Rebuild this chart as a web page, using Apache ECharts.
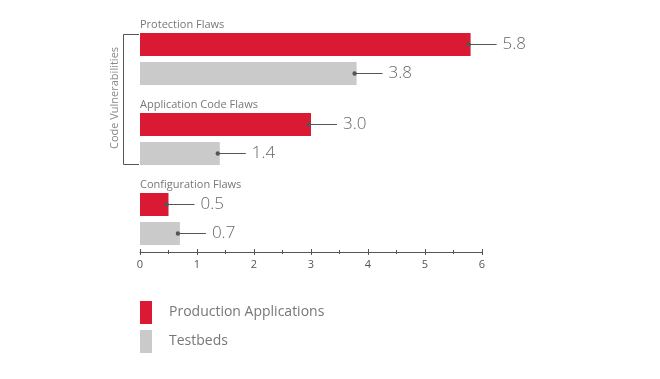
<!DOCTYPE html>
<html><head><meta charset="utf-8">
<script src="https://cdn.jsdelivr.net/npm/echarts@6/dist/echarts.min.js"></script>
<style>html,body{margin:0;padding:0;background:#fff}#c{width:660px;height:379px}</style>
</head><body><div id="c"></div>
<script>
var categories = ['Protection Flaws', 'Application Code Flaws', 'Configuration Flaws'];
var seriesNames = ['Production Applications', 'Testbeds'];
var production = [5.8, 3.0, 0.5];
var testbeds = [3.8, 1.4, 0.7];
var xTicks = [0, 1, 2, 3, 4, 5, 6];
var groupLabel = 'Code Vulnerabilities';

var RED = '#DA1A33', GRAY = '#CACACA', FONT = '"Open Sans", "Noto Sans", sans-serif';
var chart = echarts.init(document.getElementById('c'));

function annot(values) {
  return values.map(function (v, i) { return [v, i]; });
}
function makeRender(dy) {
  return function (params, api) {
    var v = api.value(0), idx = api.value(1);
    var p = api.coord([v, idx]);
    var x = p[0], y = p[1] + dy;
    return {
      type: 'group',
      children: [
        { type: 'line', shape: { x1: x - 2, y1: y, x2: x + 26, y2: y }, style: { stroke: '#555', lineWidth: 1 } },
        { type: 'circle', shape: { cx: x - 2, cy: y, r: 2.2 }, style: { fill: '#555' } },
        { type: 'text', x: x + 32, y: y, style: { text: v.toFixed(1), fill: '#666', font: '300 17px ' + FONT, textVerticalAlign: 'middle', textAlign: 'left' } }
      ]
    };
  };
}

chart.setOption({
  animation: false,
  grid: { left: 140, right: 178, top: 19, bottom: 120, containLabel: false },
  legend: {
    data: seriesNames, orient: 'vertical', left: 140, top: 301, padding: 0,
    icon: 'rect', itemWidth: 12, itemHeight: 23, itemGap: 6,
    textStyle: { fontSize: 14, color: '#777', fontFamily: FONT, padding: [0, 0, 0, 12] },
    selectedMode: false
  },
  xAxis: [{
    type: 'value', min: 0, max: 6, interval: 1, position: 'bottom', offset: -7,
    axisLine: { show: true, lineStyle: { color: '#555' } },
    axisTick: { show: true, length: 3, lineStyle: { color: '#555' } },
    minorTick: { show: true, splitNumber: 2, length: 2, lineStyle: { color: '#555' } },
    splitLine: { show: false },
    axisLabel: { color: '#555', fontSize: 11, fontFamily: FONT, margin: 7,
      formatter: function (v) { return xTicks.indexOf(v) >= 0 ? String(v) : ''; } }
  }, {
    type: 'value', min: 0, max: 6, interval: 1, position: 'bottom', offset: -7,
    axisLine: { show: false },
    axisTick: { show: true, inside: true, length: 3, lineStyle: { color: '#555' } },
    minorTick: { show: true, splitNumber: 2, length: 2, lineStyle: { color: '#555' } },
    splitLine: { show: false }, axisLabel: { show: false }
  }],
  yAxis: {
    type: 'category', data: categories, inverse: true,
    axisLine: { show: false }, axisTick: { show: false }, splitLine: { show: false },
    axisLabel: { inside: true, margin: 0, color: '#777', fontSize: 11, fontFamily: FONT,
      verticalAlign: 'bottom', padding: [0, 0, 29, 0] }
  },
  series: [
    { name: seriesNames[0], type: 'bar', data: production, barWidth: 23, barGap: '26%', itemStyle: { color: RED } },
    { name: seriesNames[1], type: 'bar', data: testbeds, barWidth: 23, barGap: '26%', itemStyle: { color: GRAY } },
    { type: 'custom', renderItem: makeRender(-14.5), data: annot(production), encode: { x: 0, y: 1 }, z: 5, silent: true },
    { type: 'custom', renderItem: makeRender(14.5), data: annot(testbeds), encode: { x: 0, y: 1 }, z: 5, silent: true }
  ],
  graphic: [
    { type: 'polyline', shape: { points: [[139, 34.5], [123.5, 34.5], [123.5, 164.5], [139, 164.5]] }, style: { stroke: '#555', lineWidth: 1, fill: null } },
    { type: 'text', x: 115, y: 98, rotation: Math.PI / 2,
      style: { text: groupLabel, fill: '#888', font: '11px ' + FONT, textAlign: 'center', textVerticalAlign: 'middle' } }
  ]
});
</script></body></html>
